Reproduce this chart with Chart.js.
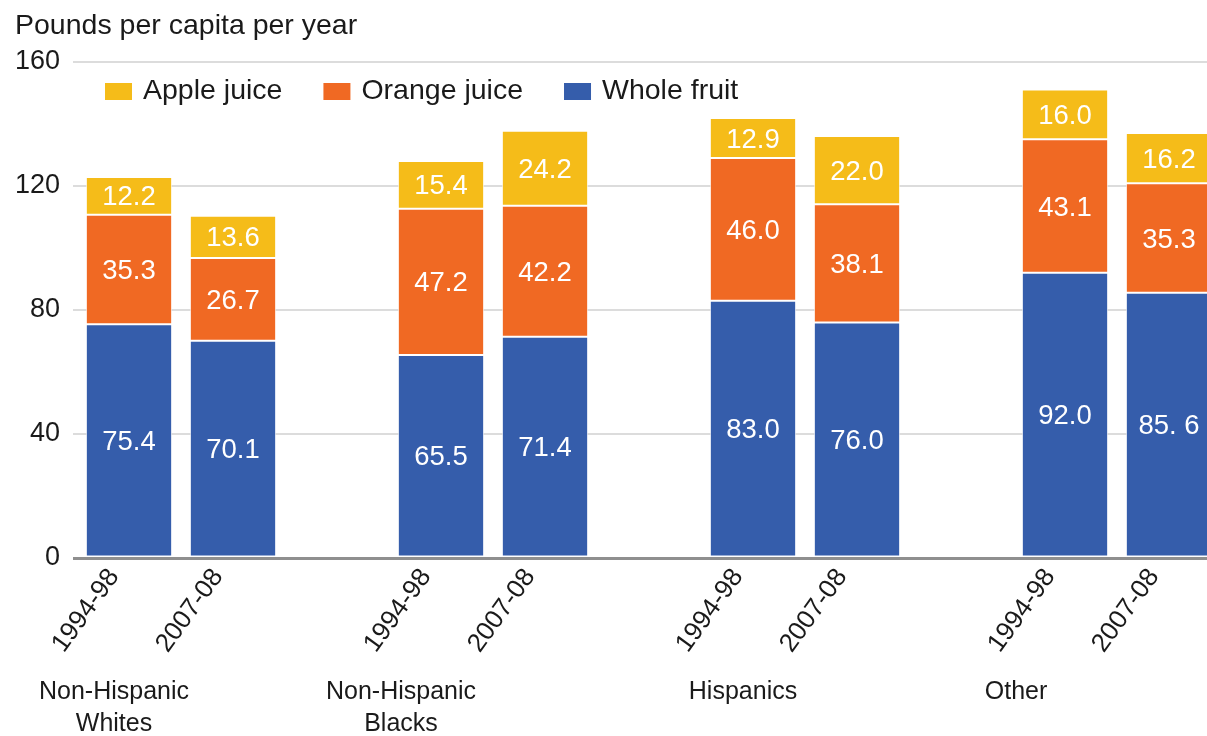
<!DOCTYPE html>
<html>
<head>
<meta charset="utf-8">
<script src="https://cdn.jsdelivr.net/npm/chart.js@4.4.0/dist/chart.umd.min.js"></script>
<style>
  html, body { margin: 0; padding: 0; background: #fff; overflow: hidden; }
  canvas { display: block; }
</style>
</head>
<body>
<canvas id="chart" width="1230" height="736"></canvas>
<script>
const groups = [["Non-Hispanic", "Whites"], ["Non-Hispanic", "Blacks"], ["Hispanics"], ["Other"]];
const periods = ["1994-98", "2007-08"];

const wholeFruit = [75.4, 70.1, 65.5, 71.4, 83.0, 76.0, 92.0, 85.6];
const orangeJuice = [35.3, 26.7, 47.2, 42.2, 46.0, 38.1, 43.1, 35.3];
const appleJuice = [12.2, 13.6, 15.4, 24.2, 12.9, 22.0, 16.0, 16.2];
// the source prints the last whole-fruit value as "85. 6"
const wholeFruitText = ["75.4", "70.1", "65.5", "71.4", "83.0", "76.0", "92.0", "85. 6"];

const yMin = 0;
const yMax = 160;
const yStep = 40;

const colors = {
  "Whole fruit": "#355DAB",
  "Orange juice": "#F06923",
  "Apple juice": "#F5BC19",
};

const FONT = "'Liberation Sans', Arial, Helvetica, sans-serif";

// one empty slot between the groups
function withGaps(values) {
  const out = [];
  groups.forEach((g, i) => {
    periods.forEach((p, j) => out.push(values[i * periods.length + j]));
    if (i < groups.length - 1) out.push(null);
  });
  return out;
}

const slotLabels = withGaps(groups.flatMap(() => periods)).map((l) => l || "");

function makeDataset(label, values, text) {
  return {
    label: label,
    data: withGaps(values),
    valueText: text ? withGaps(text) : null,
    backgroundColor: colors[label],
    borderColor: "rgba(255,255,255,0.75)",
    borderWidth: 1,
    borderSkipped: false,
    barPercentage: 0.83,
    categoryPercentage: 1,
  };
}

// small text nudges for the group names, relative to their first bar
const groupNudge = [-15, -40, -10, -49];

const extrasPlugin = {
  id: "extras",
  afterDraw(chart) {
    const ctx = chart.ctx;
    const area = chart.chartArea;
    const x = chart.scales.x;
    ctx.save();

    // axis title
    ctx.fillStyle = "#1a1a1a";
    ctx.font = "28.5px " + FONT;
    ctx.textAlign = "left";
    ctx.textBaseline = "middle";
    ctx.fillText("Pounds per capita per year", 15, 26);

    // legend, top series first
    ctx.font = "28.5px " + FONT;
    let lx = area.left + 28;
    const ly = 91;
    chart.data.datasets.slice().reverse().forEach((ds) => {
      ctx.fillStyle = ds.backgroundColor;
      ctx.fillRect(lx, ly - 8, 27, 17);
      lx += 38;
      ctx.fillStyle = "#1a1a1a";
      ctx.fillText(ds.label, lx, ly);
      lx += ctx.measureText(ds.label).width + 41;
    });

    // values inside the segments
    ctx.font = "27.5px " + FONT;
    ctx.fillStyle = "#ffffff";
    ctx.textAlign = "center";
    chart.data.datasets.forEach((ds, di) => {
      const meta = chart.getDatasetMeta(di);
      meta.data.forEach((bar, i) => {
        const v = ds.data[i];
        if (v === null || v === undefined) return;
        const t = ds.valueText ? ds.valueText[i] : v.toFixed(1);
        ctx.fillText(t, bar.x, (bar.y + bar.base) / 2 + 2);
      });
    });

    // group names under the rotated period labels
    ctx.fillStyle = "#1a1a1a";
    ctx.font = "25px " + FONT;
    groups.forEach((lines, i) => {
      const gx = x.getPixelForValue(i * (periods.length + 1)) + groupNudge[i];
      lines.forEach((line, k) => {
        ctx.fillText(line, gx, 692 + k * 32);
      });
    });

    ctx.restore();
  },
};

new Chart(document.getElementById("chart"), {
  type: "bar",
  data: {
    labels: slotLabels,
    datasets: [
      makeDataset("Whole fruit", wholeFruit, wholeFruitText),
      makeDataset("Orange juice", orangeJuice),
      makeDataset("Apple juice", appleJuice),
    ],
  },
  options: {
    responsive: false,
    animation: false,
    layout: { padding: { top: 62, right: 9, bottom: 0, left: 0 } },
    plugins: {
      legend: { display: false },
      tooltip: { enabled: false },
    },
    scales: {
      x: {
        stacked: true,
        grid: { display: false, drawTicks: false },
        border: { display: false },
        ticks: {
          autoSkip: false,
          minRotation: 54,
          maxRotation: 54,
          labelOffset: -15,
          padding: 5,
          color: "#1a1a1a",
          font: { family: FONT, size: 26 },
        },
        afterFit(scale) {
          scale.height = 178;
        },
      },
      y: {
        stacked: true,
        min: yMin,
        max: yMax,
        ticks: {
          stepSize: yStep,
          padding: 13,
          color: "#1a1a1a",
          font: { family: FONT, size: 27 },
        },
        grid: {
          color: (c) => (c.tick && c.tick.value === 0 ? "#8f8f8f" : "#dcdcdc"),
          lineWidth: (c) => (c.tick && c.tick.value === 0 ? 3 : 2),
          tickColor: (c) => (c.tick && c.tick.value === 0 ? "#8f8f8f" : "#dcdcdc"),
          tickWidth: (c) => (c.tick && c.tick.value === 0 ? 3 : 2),
          tickLength: 4,
        },
        border: { display: false },
        afterFit(scale) {
          scale.width = 77;
        },
      },
    },
  },
  plugins: [extrasPlugin],
});
</script>
</body>
</html>
